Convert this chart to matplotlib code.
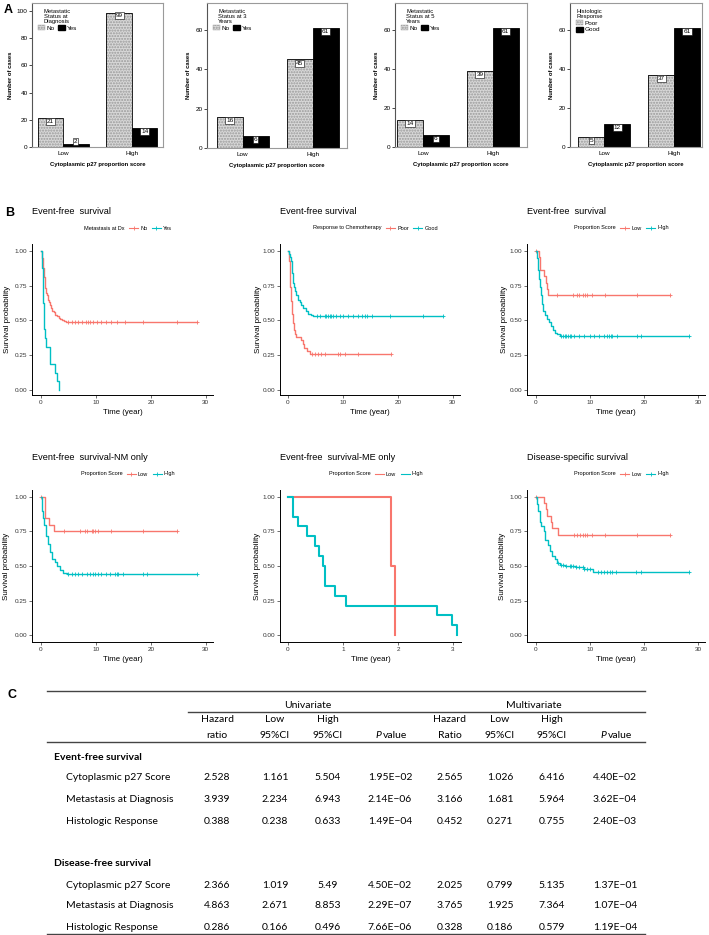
import numpy as np
import matplotlib
matplotlib.use("Agg")
import matplotlib.pyplot as plt
from matplotlib.lines import Line2D
from matplotlib.patches import Patch

W, H = 709, 935
RED = '#F8766D'
CYAN = '#00BFC4'
SANS = 'Liberation Sans'

# ---------------- panel A data ----------------
score_cats = ['Low', 'High']
a_legend_titles = ['Metastatic\nStatus at\nDiagnosis', 'Metastatic\nStatus at 3\nYears',
                   'Metastatic\nStatus at 5\nYears', 'Histologic\nResponse']
a_groups = [['No', 'Yes'], ['No', 'Yes'], ['No', 'Yes'], ['Poor', 'Good']]
a_first = [[21, 99], [16, 45], [14, 39], [5, 37]]    # hatched bars
a_second = [[2, 14], [6, 61], [6, 61], [12, 61]]     # black bars

# ---------------- panel B data (Kaplan-Meier step points) ----------------
b1_no_t = [0, 0.1, 0.2, 0.3, 0.4, 0.5, 0.6, 0.7, 0.8, 0.9, 1.0, 1.2, 1.4, 1.6, 1.8, 2.0, 2.3, 2.6, 2.9, 3.2, 3.5, 3.8, 4.2, 4.6]
b1_no_s = [1.0, 0.98, 0.95, 0.92, 0.88, 0.85, 0.81, 0.77, 0.73, 0.70, 0.68, 0.65, 0.63, 0.61, 0.59, 0.57, 0.56, 0.54, 0.53, 0.52, 0.51, 0.50, 0.495, 0.49]
b1_no_c = [4.9, 5.6, 6.2, 6.8, 7.4, 8.2, 8.6, 9.0, 9.5, 10.1, 11.0, 11.9, 12.8, 13.8, 15.3, 18.6, 24.7, 28.3]
b1_yes_t = [0, 0.15, 0.25, 0.3, 0.35, 0.4, 0.45, 0.5, 0.55, 0.6, 0.7, 0.85, 1.7, 2.5, 2.9, 3.3]
b1_yes_s = [1.0, 0.9375, 0.875, 0.8125, 0.75, 0.6875, 0.625, 0.5625, 0.5, 0.4375, 0.375, 0.3125, 0.1875, 0.125, 0.0625, 0.0]
b1_yes_c = []

b2_poor_t = [0, 0.15, 0.3, 0.45, 0.6, 0.75, 0.9, 1.05, 1.2, 1.4, 2.3, 2.7, 3.0, 3.4, 4.0]
b2_poor_s = [1.0, 0.93, 0.83, 0.74, 0.64, 0.55, 0.48, 0.43, 0.40, 0.38, 0.36, 0.33, 0.30, 0.28, 0.26]
b2_poor_c = [4.3, 4.9, 5.5, 6.1, 6.7, 9.1, 9.5, 10.4, 12.8, 18.7]
b2_good_t = [0, 0.2, 0.4, 0.55, 0.65, 0.75, 0.85, 0.95, 1.1, 1.3, 1.5, 1.8, 2.1, 2.4, 2.8, 3.2, 3.6, 4.1, 4.6]
b2_good_s = [1.0, 0.98, 0.96, 0.93, 0.88, 0.84, 0.80, 0.77, 0.74, 0.71, 0.68, 0.65, 0.63, 0.61, 0.59, 0.57, 0.55, 0.54, 0.53]
b2_good_c = [5.2, 5.8, 6.7, 7.0, 7.3, 7.6, 7.9, 8.2, 8.8, 9.5, 10.1, 11.0, 11.9, 12.8, 13.4, 14.0, 14.3, 15.2, 18.5, 24.6, 28.2]

b3_low_t = [0, 0.6, 0.8, 1.5, 1.8, 2.0, 2.3]
b3_low_s = [1.0, 0.955, 0.864, 0.818, 0.773, 0.727, 0.682]
b3_low_c = [0.05, 3.9, 6.9, 7.5, 8.0, 8.7, 9.0, 9.4, 10.4, 12.8, 18.7, 24.8]
b3_high_t = [0, 0.12, 0.3, 0.55, 0.73, 0.91, 1.16, 1.34, 1.65, 1.95, 2.4, 2.75, 3.2, 3.5, 3.9, 4.4]
b3_high_s = [1.0, 0.95, 0.86, 0.80, 0.74, 0.68, 0.62, 0.57, 0.54, 0.51, 0.49, 0.46, 0.43, 0.41, 0.40, 0.39]
b3_high_c = [4.7, 5.0, 5.3, 5.6, 5.9, 6.2, 6.5, 7.1, 8.0, 8.9, 9.9, 10.8, 11.7, 12.6, 13.2, 13.5, 13.8, 14.1, 15.0, 18.7, 19.3, 28.2]

b4_low_t = [0, 0.8, 1.5, 2.35]
b4_low_s = [1.0, 0.85, 0.80, 0.75]
b4_low_c = [0.05, 4.1, 7.1, 8.0, 8.4, 9.2, 9.5, 9.8, 10.4, 12.8, 18.6, 24.7]
b4_high_t = [0, 0.24, 0.42, 0.6, 0.9, 1.2, 1.6, 2.05, 2.5, 2.97, 3.45, 4.06, 4.7]
b4_high_s = [1.0, 0.90, 0.85, 0.80, 0.72, 0.66, 0.60, 0.55, 0.53, 0.50, 0.47, 0.45, 0.44]
b4_high_c = [4.96, 5.6, 6.2, 6.8, 7.4, 8.3, 8.9, 9.5, 9.8, 10.4, 11.0, 11.9, 12.5, 13.4, 13.8, 14.1, 15.0, 18.6, 19.2, 28.3]

b5_low_t = [0, 1.88, 1.94]
b5_low_s = [1.0, 0.5, 0.0]
b5_low_c = []
b5_high_t = [0, 0.1, 0.19, 0.34, 0.49, 0.56, 0.64, 0.68, 0.85, 1.05, 2.7, 2.98, 3.08]
b5_high_s = [1.0, 0.857, 0.786, 0.714, 0.643, 0.571, 0.5, 0.357, 0.286, 0.214, 0.143, 0.071, 0.0]
b5_high_c = []

b6_low_t = [0, 1.46, 1.83, 2.08, 2.75, 3.05, 4.1]
b6_low_s = [1.0, 0.955, 0.909, 0.864, 0.818, 0.773, 0.727]
b6_low_c = [0.05, 7.1, 7.6, 8.2, 8.7, 9.0, 9.4, 10.4, 12.8, 18.7, 24.8]
b6_high_t = [0, 0.2, 0.43, 0.73, 1.0, 1.46, 1.76, 2.2, 2.6, 3.05, 3.5, 3.9, 4.4, 5.3, 7.4, 8.9, 10.6]
b6_high_s = [1.0, 0.95, 0.90, 0.82, 0.79, 0.75, 0.69, 0.65, 0.61, 0.57, 0.55, 0.52, 0.51, 0.50, 0.49, 0.48, 0.46]
b6_high_c = [4.1, 4.7, 5.0, 5.6, 6.2, 6.5, 6.9, 7.4, 8.0, 8.7, 8.9, 9.4, 9.9, 11.4, 12.0, 12.6, 13.2, 13.6, 14.1, 14.7, 18.4, 19.3, 28.2]

b_titles = ['Event-free  survival', 'Event-free survival', 'Event-free  survival',
            'Event-free  survival-NM only', 'Event-free  survival-ME only', 'Disease-specific survival']
b_leg_titles = ['Metastasis at Dx', 'Response to Chemotherapy', 'Proportion Score',
                'Proportion Score', 'Proportion Score', 'Proportion Score']
b_leg_labels = [['No', 'Yes'], ['Poor', 'Good'], ['Low', 'High'],
                ['Low', 'High'], ['Low', 'High'], ['Low', 'High']]
b_curves = [
    [(b1_no_t, b1_no_s, b1_no_c), (b1_yes_t, b1_yes_s, b1_yes_c)],
    [(b2_poor_t, b2_poor_s, b2_poor_c), (b2_good_t, b2_good_s, b2_good_c)],
    [(b3_low_t, b3_low_s, b3_low_c), (b3_high_t, b3_high_s, b3_high_c)],
    [(b4_low_t, b4_low_s, b4_low_c), (b4_high_t, b4_high_s, b4_high_c)],
    [(b5_low_t, b5_low_s, b5_low_c), (b5_high_t, b5_high_s, b5_high_c)],
    [(b6_low_t, b6_low_s, b6_low_c), (b6_high_t, b6_high_s, b6_high_c)],
]

# ---------------- panel C data ----------------
c_head1 = ['Hazard', 'Low', 'High', '', 'Hazard', 'Low', 'High', '']
c_head2 = ['ratio', '95%CI', '95%CI', 'P value', 'Ratio', '95%CI', '95%CI', 'P value']
c_sections = ['Event-free survival', 'Disease-free survival']
c_rows = ['Cytoplasmic p27 Score', 'Metastasis at Diagnosis', 'Histologic Response']
c_efs = [['2.528', '1.161', '5.504', '1.95E\u221202', '2.565', '1.026', '6.416', '4.40E\u221202'],
         ['3.939', '2.234', '6.943', '2.14E\u221206', '3.166', '1.681', '5.964', '3.62E\u221204'],
         ['0.388', '0.238', '0.633', '1.49E\u221204', '0.452', '0.271', '0.755', '2.40E\u221203']]
c_dfs = [['2.366', '1.019', '5.49', '4.50E\u221202', '2.025', '0.799', '5.135', '1.37E\u221201'],
         ['4.863', '2.671', '8.853', '2.29E\u221207', '3.765', '1.925', '7.364', '1.07E\u221204'],
         ['0.286', '0.166', '0.496', '7.66E\u221206', '0.328', '0.186', '0.579', '1.19E\u221204']]

fig = plt.figure(figsize=(W / 100, H / 100), dpi=100)


def px_axes(l, t, r, b):
    return fig.add_axes([l / W, 1 - b / H, (r - l) / W, (b - t) / H])


# ---------------- panel A ----------------
a_boxes = [(32, 3, 163, 147), (207, 3, 347, 148), (395, 3, 527, 147), (570, 3, 702, 147)]
a_xlims = [(-0.45, 1.45), (-0.51, 1.49), (-0.40, 1.49), (-0.49, 1.40)]
a_ymax = [106, 73.7, 73.8, 73.8]
bw = 0.37
x = np.arange(len(score_cats))
for k in range(4):
    ax = px_axes(*a_boxes[k])
    ax.bar(x - bw, a_first[k], bw, align='edge', color='#d8d8d8', edgecolor='#9a9a9a',
           hatch='......', linewidth=0)
    ax.bar(x - bw, a_first[k], bw, align='edge', fill=False, edgecolor='black', linewidth=0.6)
    ax.bar(x, a_second[k], bw, align='edge', color='black', edgecolor='black', linewidth=0.6)
    for xs, vals in [(x - bw / 2, a_first[k]), (x + bw / 2, a_second[k])]:
        for xi, v in zip(xs, vals):
            small = v < 0.04 * a_ymax[k]
            ax.text(xi, v + (0.4 if small else -0.6), str(v), ha='center',
                    va='bottom' if small else 'top', fontsize=4.6, family=SANS,
                    bbox=dict(boxstyle='square,pad=0.15', fc='white', ec='black', lw=0.4))
    ax.set_xlim(*a_xlims[k])
    ax.set_ylim(0, a_ymax[k])
    ax.set_yticks(range(0, 101 if k == 0 else 61, 20))
    ax.set_xticks(x)
    ax.set_xticklabels(score_cats)
    ax.tick_params(axis='x', length=0, labelsize=4.6, pad=3)
    ax.tick_params(axis='y', length=2, width=0.5, labelsize=4.6, pad=1)
    for lab in ax.get_xticklabels() + ax.get_yticklabels():
        lab.set_family(SANS)
    for sp in ax.spines.values():
        sp.set_color('#9a9a9a')
        sp.set_linewidth(0.8)
    ax.spines['left'].set_color('#555555')
    ax.set_ylabel('Number of cases', fontsize=4.2, fontweight='bold', family=SANS, labelpad=3)
    ax.set_xlabel('Cytoplasmic p27 proportion score', fontsize=4.2, fontweight='bold',
                  family=SANS, labelpad=4)
    handles = [Patch(facecolor='#d8d8d8', edgecolor='#9a9a9a', hatch='......', lw=0.3),
               Patch(facecolor='black', edgecolor='black')]
    leg = ax.legend(handles, a_groups[k], title=a_legend_titles[k], loc='upper left',
                    ncol=1 if k == 3 else 2, frameon=False, title_fontsize=4.2,
                    handlelength=1.1, handleheight=0.9, handletextpad=0.15, columnspacing=0.6,
                    borderaxespad=0.6, labelspacing=0.1, prop={'family': SANS, 'size': 4.6})
    leg.get_title().set_family(SANS)
    leg.get_title().set_linespacing(1.0)
    if k == 3:
        leg._legend_box.align = 'left'

fig.text(4 / W, 1 - 10 / H, 'A', fontsize=9, fontweight='bold', family=SANS, va='center')

# ---------------- panel B ----------------
b_boxes = [(32, 244, 213, 395), (280, 244, 460, 395), (527, 244, 705, 395),
           (32, 490, 213, 642), (280, 490, 461, 642), (527, 490, 705, 642)]
b_xlims = [(-1.64, 31.3), (-1.45, 31.3), (-1.65, 31.2),
           (-1.64, 31.3), (-0.145, 3.145), (-1.65, 31.2)]
b_ylab_gap = [21, 18, 19, 22, 19, 21]
for k in range(6):
    l, t, r, b = b_boxes[k]
    ax = px_axes(l, t, r, b)
    for (tt, ss, cc), col in zip(b_curves[k], [RED, CYAN]):
        end = max([tt[-1]] + cc)
        ax.step(list(tt) + [end], list(ss) + [ss[-1]], where='post', color=col,
                lw=1.5 if k == 4 else 1.0)
        if cc:
            idx = np.searchsorted(tt, cc, side='right') - 1
            ax.plot(cc, np.array(ss)[idx], ls='none', marker='+', ms=3.5, mew=0.6, color=col)
    ax.set_xlim(*b_xlims[k])
    ax.set_ylim(-0.05 if k >= 3 else -0.036, 1.05)
    ax.set_yticks([0, 0.25, 0.5, 0.75, 1.0])
    ax.set_yticklabels(['0.00', '0.25', '0.50', '0.75', '1.00'])
    ax.set_xticks([0, 1, 2, 3] if k == 4 else [0, 10, 20, 30])
    ax.tick_params(length=2, width=0.5, labelsize=4.6, pad=1.5, colors='#333333')
    for lab in ax.get_xticklabels() + ax.get_yticklabels():
        lab.set_family(SANS)
    for s in ['top', 'right']:
        ax.spines[s].set_visible(False)
    for s in ['left', 'bottom']:
        ax.spines[s].set_linewidth(0.7)
    ax.set_xlabel('Time (year)', fontsize=5.6, family=SANS, labelpad=3)
    ax.set_ylabel('Survival probability', fontsize=5.8, family=SANS)
    ax.yaxis.set_label_coords(-b_ylab_gap[k] / (r - l), 0.5)
    fig.text(l / W, 1 - (t - 33) / H, b_titles[k], fontsize=6.6, family=SANS, va='center')
    mk = None if k == 4 else '+'
    handles = [Line2D([], [], color='none'),
               Line2D([], [], color=RED, marker=mk, ms=3, mew=0.6, lw=0.8),
               Line2D([], [], color=CYAN, marker=mk, ms=3, mew=0.6, lw=0.8)]
    ax.legend(handles, [b_leg_titles[k]] + b_leg_labels[k], ncol=3, frameon=False,
              loc='center', bbox_to_anchor=((l + r) / 2 / W, 1 - (t - 16) / H),
              bbox_transform=fig.transFigure, prop={'family': SANS, 'size': 4.0},
              handlelength=1.6, handletextpad=0.4, columnspacing=0.8)

fig.text(5 / W, 1 - 213 / H, 'B', fontsize=9, fontweight='bold', family=SANS, va='center')

# ---------------- panel C (table) ----------------
tax = fig.add_axes([0, 0, 1, 1])
tax.set_xlim(0, W)
tax.set_ylim(H, 0)
tax.axis('off')
TF = 'Lato'
tfs = 7.5
col_x = [217, 275, 328, 390, 450, 500, 552, 615]
tax.text(8, 695, 'C', fontsize=9, fontweight='bold', family=SANS, va='center')
tax.plot([47, 645], [691, 691], color='#444444', lw=1.0)
tax.plot([188, 645], [712, 712], color='#444444', lw=1.0)
tax.plot([47, 645], [742, 742], color='#444444', lw=1.0)
tax.plot([47, 645], [934, 934], color='#444444', lw=1.0)
tax.text(308, 705, 'Univariate', fontsize=tfs, family=TF, ha='center', va='center')
tax.text(534, 705, 'Multivariate', fontsize=tfs, family=TF, ha='center', va='center')
for cx, h1, h2 in zip(col_x, c_head1, c_head2):
    if h1:
        tax.text(cx, 720, h1, fontsize=tfs, family=TF, ha='center', va='center')
    if h2.startswith('P '):
        tax.text(cx - 9, 735, 'P', fontsize=tfs, family=TF, style='italic', ha='right', va='center')
        tax.text(cx - 7.5, 735, 'value', fontsize=tfs, family=TF, ha='left', va='center')
    else:
        tax.text(cx, 735, h2, fontsize=tfs, family=TF, ha='center', va='center')

for sec, sec_y, rows_y, vals in [(c_sections[0], 757, [778, 799, 821], c_efs),
                                 (c_sections[1], 863, [885, 906, 927], c_dfs)]:
    tax.text(54, sec_y, sec, fontsize=tfs, family=TF, fontweight='bold', va='center')
    for name, ry, rv in zip(c_rows, rows_y, vals):
        tax.text(66, ry, name, fontsize=tfs, family=TF, va='center')
        for cx, v in zip(col_x, rv):
            tax.text(cx, ry, v, fontsize=tfs, family=TF, ha='center', va='center')

fig.savefig('out.png', dpi=100)
